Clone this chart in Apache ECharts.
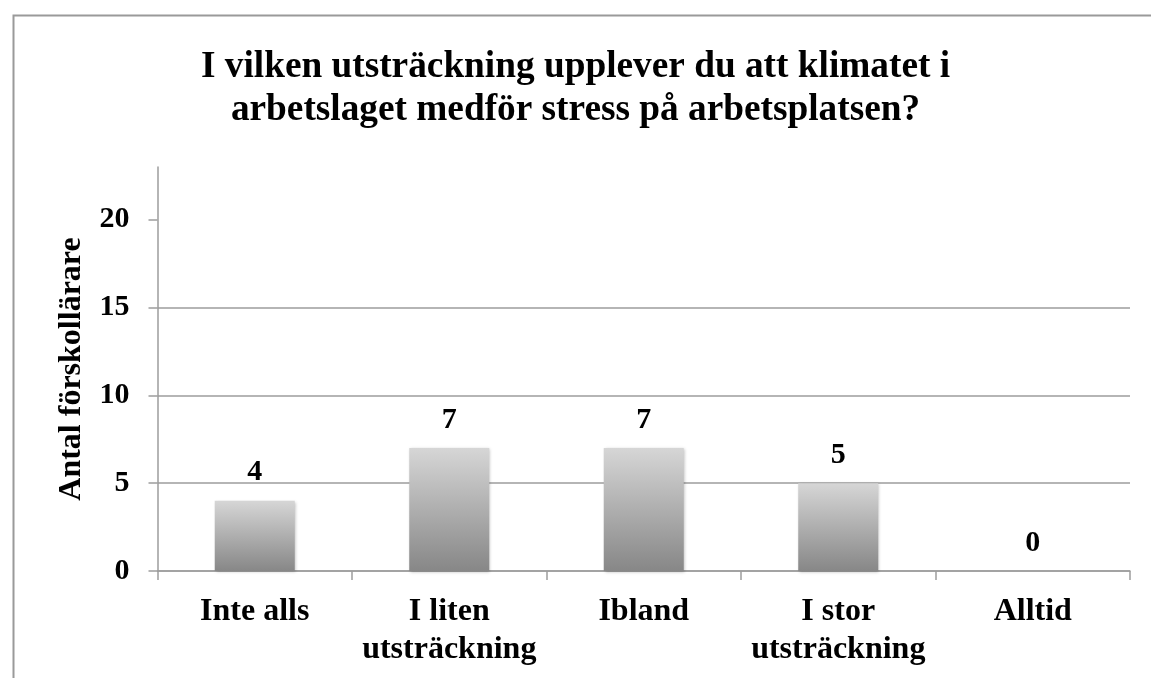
<!DOCTYPE html>
<html>
<head>
<meta charset="utf-8">
<script src="https://cdn.jsdelivr.net/npm/echarts@6/dist/echarts.min.js"></script>
<style>
html,body{margin:0;padding:0;background:#fff;}
#c{width:1151px;height:678px;}
</style>
</head>
<body>
<div id="c"></div>
<script>
const titleText = "I vilken utsträckning upplever du att klimatet i\narbetslaget medför stress på arbetsplatsen?";
const categories = ["Inte alls", "I liten\nutsträckning", "Ibland", "I stor\nutsträckning", "Alltid"];
const values = [4, 7, 7, 5, 0];
const yTicks = [0, 5, 10, 15, 20];
const yName = "Antal förskollärare";

const FONT = '"Liberation Serif", "Times New Roman", serif';
const chart = echarts.init(document.getElementById('c'));
chart.setOption({
  animation: false,
  backgroundColor: '#fff',
  title: {
    text: titleText,
    left: 'center',
    top: 41,
    textStyle: {fontFamily: FONT, fontSize: 37.3, fontWeight: 'bold', color: '#000', lineHeight: 43}
  },
  graphic: [{
    type: 'rect', left: 11, top: 13, shape: {width: 1200, height: 720},
    style: {fill: 'none', stroke: '#9a9a9a', lineWidth: 2}, silent: true
  }],
  grid: {left: 157.5, right: 21, top: 167, bottom: 107},
  xAxis: {
    type: 'category',
    data: categories,
    boundaryGap: true,
    axisLine: {lineStyle: {color: '#9d9d9d', width: 1.5}},
    axisTick: {show: true, length: 9, alignWithLabel: false, lineStyle: {color: '#9d9d9d', width: 1.5}},
    axisLabel: {fontFamily: FONT, fontSize: 32, fontWeight: 'bold', color: '#000', margin: 22, lineHeight: 38, interval: 0}
  },
  yAxis: {
    type: 'value',
    min: 0, max: 23, interval: 5,
    name: yName,
    nameLocation: 'middle',
    nameGap: 70,
    nameTextStyle: {fontFamily: FONT, fontSize: 32, fontWeight: 'bold', color: '#000'},
    axisLine: {show: true, lineStyle: {color: '#9d9d9d', width: 1.5}},
    axisTick: {show: true, length: 9, customValues: yTicks, lineStyle: {color: '#9d9d9d', width: 1.5}},
    axisLabel: {fontFamily: FONT, fontSize: 30, fontWeight: 'bold', color: '#000', margin: 28, customValues: yTicks},
    splitLine: {show: true, showMaxLine: false, lineStyle: {color: '#9d9d9d', width: 1.5}}
  },
  series: [{
    type: 'bar',
    data: values,
    barWidth: 80,
    itemStyle: {
      color: new echarts.graphic.LinearGradient(0, 0, 0, 1, [
        {offset: 0, color: '#d6d6d6'},
        {offset: 1, color: '#878787'}
      ]),
      borderWidth: 0,
      shadowColor: 'rgba(0,0,0,0.25)',
      shadowBlur: 3,
      shadowOffsetX: 1,
      shadowOffsetY: 1
    },
    label: {
      show: true, position: 'top', distance: 13,
      fontFamily: FONT, fontSize: 30, fontWeight: 'bold', color: '#000'
    }
  }]
});
</script>
</body>
</html>
